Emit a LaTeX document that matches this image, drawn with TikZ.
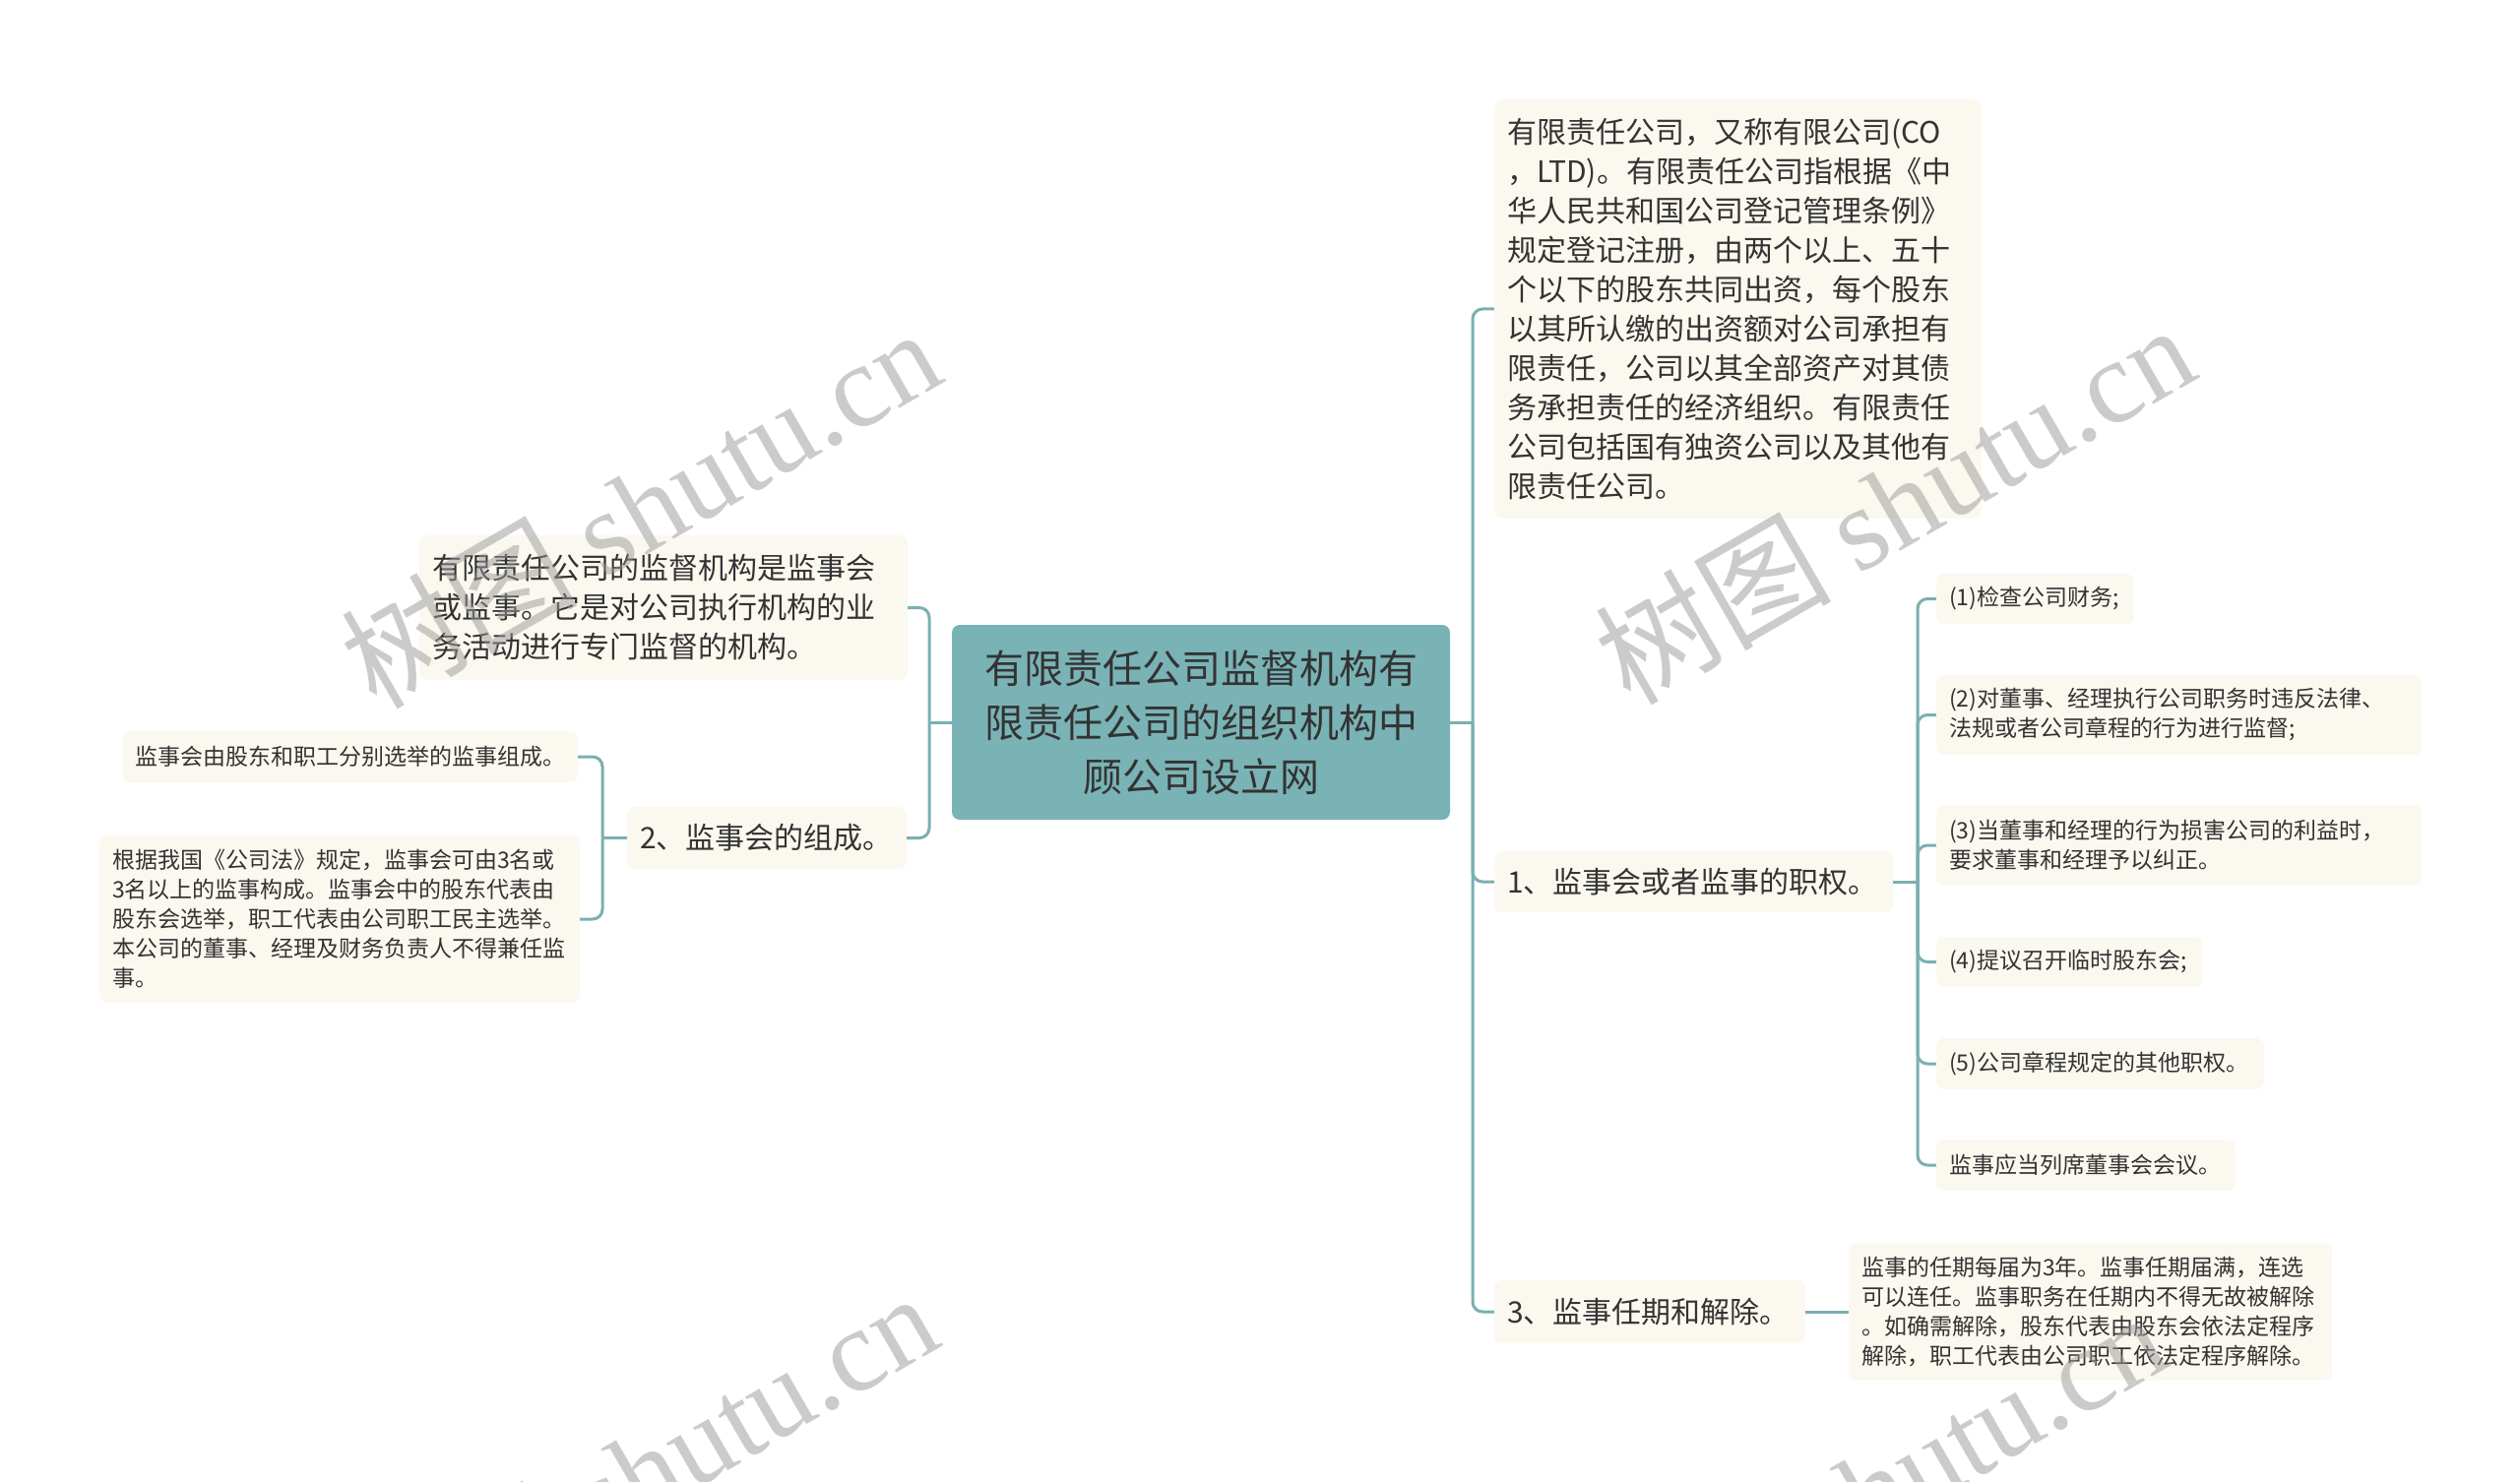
\documentclass[tikz,border=0pt]{standalone}
\usepackage{fontspec}
\setmainfont{Noto Sans CJK SC}
\newfontfamily\wmserif{Liberation Serif}
\definecolor{cream}{HTML}{FBF8EF}
\definecolor{teal}{HTML}{7AB3B5}
\definecolor{lineclr}{HTML}{7AB0B2}
\definecolor{txt}{HTML}{333333}
\tikzset{
  leaf/.style={fill=cream, rounded corners=8pt, inner xsep=13pt, inner ysep=0pt, align=left, text=txt, anchor=center},
  bigtxt/.style={font=\fontsize{30}{40}\selectfont},
  smalltxt/.style={font=\fontsize{23}{30}\selectfont},
  conn/.style={draw=lineclr, line width=3pt, rounded corners=10pt},
  wm/.style={rotate=30, text=black!40, opacity=0.5, font=\fontsize{120}{120}\selectfont},
}
\begin{document}
\begin{tikzpicture}[x=1pt,y=-1pt]
\fill[white] (0,0) rectangle (2560,1506);
\useasboundingbox (0,0) rectangle (2560,1506);

% central node
\node[fill=teal, rounded corners=8pt, minimum width=506pt, minimum height=198pt, align=center,
      font=\fontsize{40}{55}\selectfont, text=txt] (C) at (1220,734)
  {有限责任公司监督机构有\\限责任公司的组织机构中\\顾公司设立网};

% right side
\node[leaf,bigtxt,text width=469pt,minimum height=426pt] (T) at (1765.5,314)
  {有限责任公司，又称有限公司(CO\\，LTD)。有限责任公司指根据《中\\华人民共和国公司登记管理条例》\\规定登记注册，由两个以上、五十\\个以下的股东共同出资，每个股东\\以其所认缴的出资额对公司承担有\\限责任，公司以其全部资产对其债\\务承担责任的经济组织。有限责任\\公司包括国有独资公司以及其他有\\限责任公司。};
\node[leaf,bigtxt,text width=379pt,minimum height=62pt] (R1) at (1720.5,896) {1、监事会或者监事的职权。};
\node[leaf,bigtxt,text width=290pt,minimum height=64pt] (R3) at (1676,1333) {3、监事任期和解除。};

\node[leaf,smalltxt,text width=175pt,minimum height=51pt] (R1a) at (2067.5,608.5) {(1)检查公司财务;};
\node[leaf,smalltxt,text width=467pt,minimum height=81pt] (R1b) at (2213.5,726.5) {(2)对董事、经理执行公司职务时违反法律、\\法规或者公司章程的行为进行监督;};
\node[leaf,smalltxt,text width=467pt,minimum height=82pt] (R1c) at (2213.5,859) {(3)当董事和经理的行为损害公司的利益时，\\要求董事和经理予以纠正。};
\node[leaf,smalltxt,text width=244pt,minimum height=51pt] (R1d) at (2102,977.5) {(4)提议召开临时股东会;};
\node[leaf,smalltxt,text width=307pt,minimum height=52pt] (R1e) at (2133.5,1081) {(5)公司章程规定的其他职权。};
\node[leaf,smalltxt,text width=278pt,minimum height=52pt] (R1f) at (2119,1184) {监事应当列席董事会会议。};

\node[leaf,smalltxt,text width=465pt,minimum height=139pt] (R3a) at (2123.5,1333)
  {监事的任期每届为3年。监事任期届满，连选\\可以连任。监事职务在任期内不得无故被解除\\。如确需解除，股东代表由股东会依法定程序\\解除，职工代表由公司职工依法定程序解除。};

% left side
\node[leaf,bigtxt,text width=470pt,minimum height=147pt] (L1) at (674,617.5)
  {有限责任公司的监督机构是监事会\\或监事。它是对公司执行机构的业\\务活动进行专门监督的机构。};
\node[leaf,bigtxt,text width=258pt,minimum height=63pt] (L2) at (779,851.5) {2、监事会的组成。};
\node[leaf,smalltxt,text width=437pt,minimum height=52pt] (L2a) at (355.5,769) {监事会由股东和职工分别选举的监事组成。};
\node[leaf,smalltxt,text width=462pt,minimum height=170pt] (L2b) at (345,934)
  {根据我国《公司法》规定，监事会可由3名或\\3名以上的监事构成。监事会中的股东代表由\\股东会选举，职工代表由公司职工民主选举。\\本公司的董事、经理及财务负责人不得兼任监\\事。};

% junctions
\coordinate (jR) at (1496,734);
\coordinate (jL) at (944,734);
\coordinate (jR1) at (1948,896);
\coordinate (jL2) at (612,851.5);

% connectors
\draw[conn] (C.east) -- (jR);
\draw[conn] (jR) |- (T.west);
\draw[conn] (jR) |- (R1.west);
\draw[conn] (jR) |- (R3.west);
\draw[conn] (C.west) -- (jL);
\draw[conn] (jL) |- (L1.east);
\draw[conn] (jL) |- (L2.east);
\draw[conn] (R1.east) -- (jR1);
\foreach \n in {R1a,R1b,R1c,R1d,R1e,R1f} { \draw[conn] (jR1) |- (\n.west); }
\draw[conn] (L2.west) -- (jL2);
\draw[conn] (jL2) |- (L2a.east);
\draw[conn] (jL2) |- (L2b.east);
\draw[conn] (R3.east) -- (R3a.west);

% watermarks
\node[wm] (W1) at (650,515) {树图 {\wmserif shutu.cn}};
\node[wm] (W2) at (1924,511) {树图 {\wmserif shutu.cn}};
\node[wm] (W3) at (647,1495) {树图 {\wmserif shutu.cn}};
\node[wm] (W4) at (1895,1515) {树图 {\wmserif shutu.cn}};
\end{tikzpicture}
\end{document}
